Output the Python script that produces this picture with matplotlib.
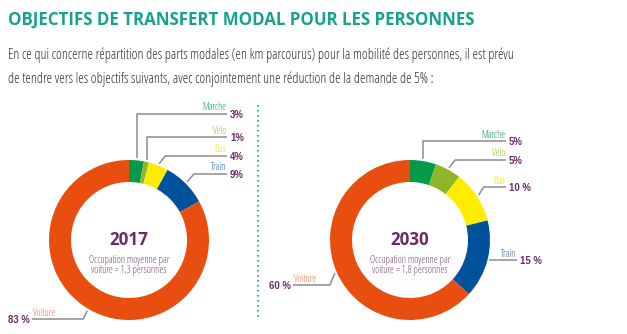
import numpy as np
import matplotlib.pyplot as plt

plt.rcParams['font.family'] = ['Liberation Sans Narrow', 'Liberation Sans', 'DejaVu Sans']

# data
modes = ['Marche', 'Vélo', 'Bus', 'Train', 'Voiture']
parts_2017 = [3, 1, 4, 9, 83]
parts_2030 = [5, 5, 10, 15, 60]
pct_labels_2017 = ['3%', '1%', '4%', '9%', '83 %']
pct_labels_2030 = ['5%', '5%', '10 %', '15 %', '60 %']
years = ['2017', '2030']
occupation = ['1,3', '1,8']

title = 'OBJECTIFS DE TRANSFERT MODAL POUR LES PERSONNES'
intro = ['En ce qui concerne répartition des parts modales (en km parcourus) pour la '
         'mobilité des personnes, il est prévu',
         'de tendre vers les objectifs suivants, avec conjointement une réduction '
         'de la demande de 5% :']

colors = ['#07994a', '#8db628', '#ffec00', '#00519c', '#e84e10']
name_colors = ['#12a05a', '#9dbb30', '#f2e000', '#2a5ca8', '#f2774f']
purple = '#6a2c68'
teal = '#17a28e'
grey_line = '#8c8c8c'

W, H = 627, 334


def Y(y):
    # pixel rows from top -> data y
    return H - y


fig = plt.figure(figsize=(W / 100, H / 100), dpi=100)
ax = fig.add_axes([0, 0, 1, 1])
ax.set_xlim(0, W)
ax.set_ylim(0, H)
renderer = fig.canvas.get_renderer()


def text_width(s, size=10, **kw):
    t = ax.text(0, 0, s, fontsize=size, **kw)
    w = t.get_window_extent(renderer).width
    t.remove()
    return w


def fit_size(s, width, size=10, **kw):
    # font size that makes s about width pixels wide
    return size * width / text_width(s, size, **kw)


# narrowest sans available, to get close to the condensed face of the original
candidates = [
    dict(family=['Liberation Sans Narrow', 'Liberation Sans'], fontstretch='condensed'),
    dict(family=['DejaVu Sans'], fontstretch='condensed'),
    dict(family=['Roboto'], fontstretch='condensed'),
    dict(family=['Noto Sans'], fontstretch='condensed'),
    dict(family=['Open Sans'], fontstretch='condensed'),
    dict(family=['Liberation Sans']),
]
narrow = min(candidates, key=lambda c: text_width(intro[0], **c))

R, ring = 80, 22
centers = [(129, 240), (410, 240)]

# leader layout: (dx of elbow, elbow row or None, end x) per mode
leaders = [
    [(0, 114, 227), (0, 137, 227), (6, 156, 227), (7, 174, 227), (-4, 319, 32)],
    [(0, 141, 506), (6, 160, 506), (5, 187, 506), (0, None, 517), (-5, 285, 293)],
]

name_fs = fit_size('Marche', 24, **narrow)
pct_fs = fit_size('83 %', 22, fontweight='bold')
sub_fs = fit_size('Occupation moyenne par', 80, **narrow)
year_fs = fit_size('2017', 39, fontweight='bold', family=['Open Sans', 'DejaVu Sans'])

for k, (vals, pcts) in enumerate([(parts_2017, pct_labels_2017), (parts_2030, pct_labels_2030)]):
    cx, cy = centers[k]
    wedges, _ = ax.pie(vals, colors=colors, startangle=90, counterclock=False,
                       center=(cx, Y(cy)), radius=R,
                       wedgeprops=dict(width=ring, edgecolor='none'))

    for i, w in enumerate(wedges):
        mid = np.deg2rad((w.theta1 + w.theta2) / 2)
        sx = cx + (R + 2) * np.cos(mid)
        sy = cy - (R + 2) * np.sin(mid)
        dx, ey, end_x = leaders[k][i]
        if ey is None:
            ey = sy
        ex = sx + dx
        ax.plot([sx, ex, end_x], [Y(sy), Y(ey), Y(ey)], color=grey_line, lw=1.1,
                solid_capstyle='butt')
        if end_x < ex:
            # label on the left side of the ring
            ax.text(end_x + 1, Y(ey - 6), modes[i], color=name_colors[i], fontsize=name_fs,
                    ha='left', va='center', **narrow)
            ax.text(end_x - 2, Y(ey + 1), pcts[i], color=purple, fontsize=pct_fs,
                    fontweight='bold', ha='right', va='center')
        else:
            ax.text(end_x - 1, Y(ey - 6), modes[i], color=name_colors[i], fontsize=name_fs,
                    ha='right', va='center', **narrow)
            ax.text(end_x + 3, Y(ey + 1), pcts[i], color=purple, fontsize=pct_fs,
                    fontweight='bold', ha='left', va='center')

    ax.text(cx, Y(cy), years[k], color=purple, fontsize=year_fs, fontweight='bold',
            family=['Open Sans', 'DejaVu Sans'], ha='center', va='center')
    ax.text(cx, Y(cy + 21), 'Occupation moyenne par', color='#7b4c7b', fontsize=sub_fs,
            ha='center', va='center', **narrow)
    ax.text(cx, Y(cy + 31), 'voiture = ' + occupation[k] + ' personnes', color='#7b4c7b',
            fontsize=sub_fs, ha='center', va='center', **narrow)

# separator
ax.plot([258, 258], [Y(105), Y(320)], color=teal, lw=1.2, ls=(0, (1, 2)))

# title and intro
title_fs = fit_size(title, 467, fontweight='bold', **narrow)
ax.text(8, Y(25), title, color=teal, fontsize=title_fs, fontweight='bold',
        ha='left', va='baseline', **narrow)
intro_fs = fit_size(intro[0], 507, **narrow)
ax.text(8, Y(59), intro[0], color='#333333', fontsize=intro_fs, ha='left', va='baseline',
        **narrow)
ax.text(8, Y(83), intro[1], color='#333333', fontsize=intro_fs, ha='left', va='baseline',
        **narrow)

ax.set_xlim(0, W)
ax.set_ylim(0, H)
ax.set_aspect('auto')
ax.axis('off')

fig.savefig('out.png', dpi=100, facecolor='white')
